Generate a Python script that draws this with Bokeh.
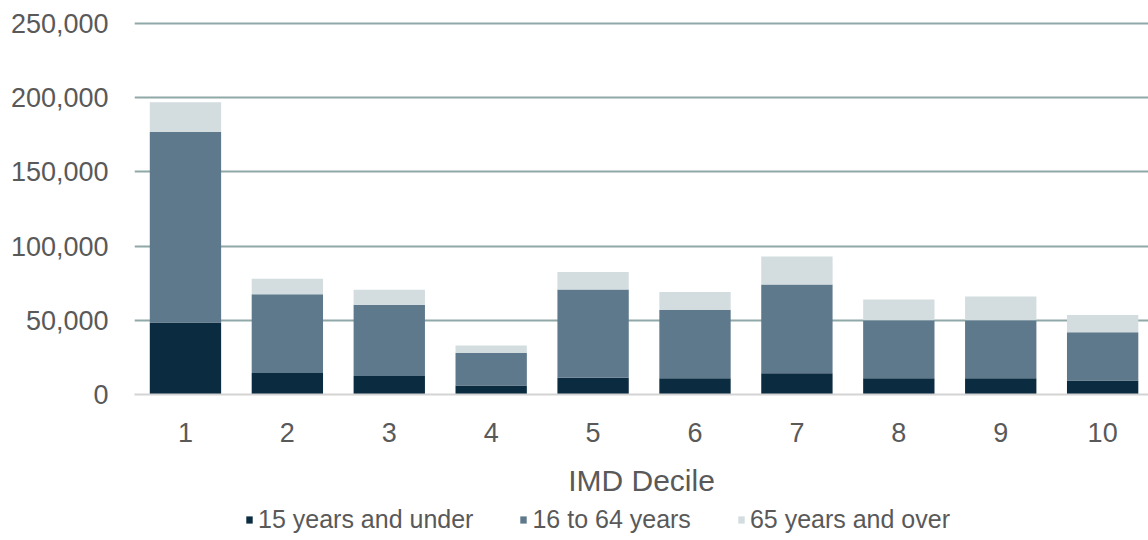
from bokeh.plotting import figure
from bokeh.layouts import column
from bokeh.models import (Range1d, FixedTicker, NumeralTickFormatter, Legend,
                          LegendItem, ColumnDataSource)
from bokeh.embed import file_html
from bokeh.resources import INLINE

# Population by IMD decile, split into three age bands
deciles = [1, 2, 3, 4, 5, 6, 7, 8, 9, 10]
under_15 = [48500, 14500, 12500, 6000, 11300, 11000, 14400, 11000, 11000, 9500]
age_16_64 = [128500, 53000, 48000, 22000, 59400, 46000, 59700, 39000, 39000, 32400]
over_65 = [20000, 10500, 10000, 5000, 11900, 12000, 18900, 14000, 16000, 11700]

series_labels = ["15 years and under", "16 to 64 years", "65 years and over"]
y_ticks = [0, 50000, 100000, 150000, 200000, 250000]

colors = ["#0b2b40", "#5e788c", "#d3dde0"]
FONT = "Liberation Sans"
TEXT = "#595959"
W = 1148

src = ColumnDataSource(dict(decile=deciles, u15=under_15, mid=age_16_64, o65=over_65))

p = figure(width=W, height=500,
           x_range=Range1d(0.5, 10.45), y_range=Range1d(0, 252000),
           output_backend="svg", toolbar_location=None,
           min_border_left=134, min_border_right=0,
           min_border_top=20, min_border_bottom=106)
p.outline_line_color = None
p.background_fill_color = "white"
p.border_fill_color = "white"

p.vbar_stack(["u15", "mid", "o65"], x="decile", width=0.7,
             color=colors, line_width=0, source=src)

# grid
p.xgrid.grid_line_color = None
p.ygrid.ticker = FixedTicker(ticks=y_ticks[1:])
p.ygrid.grid_line_color = "#8fa8a8"
p.ygrid.grid_line_width = 2

# y axis
p.yaxis.ticker = FixedTicker(ticks=y_ticks)
p.yaxis.formatter = NumeralTickFormatter(format="0,0")
p.yaxis.axis_line_color = None
p.yaxis.major_tick_line_color = None
p.yaxis.minor_tick_line_color = None
p.yaxis.major_label_standoff = 20
p.yaxis.major_label_text_font = FONT
p.yaxis.major_label_text_font_size = "27px"
p.yaxis.major_label_text_color = TEXT

# x axis
p.xaxis.ticker = FixedTicker(ticks=deciles)
p.xaxis.axis_line_color = "#d4d4d4"
p.xaxis.axis_line_width = 2
p.xaxis.major_tick_line_color = None
p.xaxis.minor_tick_line_color = None
p.xaxis.major_label_standoff = 22
p.xaxis.major_label_text_font = FONT
p.xaxis.major_label_text_font_size = "27px"
p.xaxis.major_label_text_color = TEXT
p.xaxis.axis_label = "IMD Decile"
p.xaxis.axis_label_standoff = 19
p.xaxis.axis_label_text_font = FONT
p.xaxis.axis_label_text_font_size = "30px"
p.xaxis.axis_label_text_font_style = "normal"
p.xaxis.axis_label_text_color = TEXT

# legend strip underneath the chart; its ranges keep the bars out of view,
# so only the legend keys show
lg = figure(width=W, height=40, x_range=Range1d(-101, -100),
            y_range=Range1d(1000000, 1000040),
            output_backend="svg", toolbar_location=None,
            x_axis_type=None, y_axis_type=None,
            min_border_left=0, min_border_right=0, min_border_top=0, min_border_bottom=0)
lg.outline_line_color = None
lg.xgrid.grid_line_color = None
lg.ygrid.grid_line_color = None
keys = lg.vbar_stack(["u15", "mid", "o65"], x="decile", width=0.7,
                     color=colors, line_width=0, source=src)

legend = Legend(
    items=[LegendItem(label=lab, renderers=[r]) for lab, r in zip(series_labels, keys)],
    orientation="horizontal", location=(111, 6),
    margin=0, padding=0, spacing=46,
    glyph_width=8, glyph_height=9, label_standoff=5,
    label_text_font=FONT, label_text_font_size="25px", label_text_color=TEXT,
    border_line_color=None, background_fill_alpha=0,
)
lg.add_layout(legend)

layout = column(p, lg, spacing=0)
open("out.html", "w").write(file_html(layout, INLINE))
